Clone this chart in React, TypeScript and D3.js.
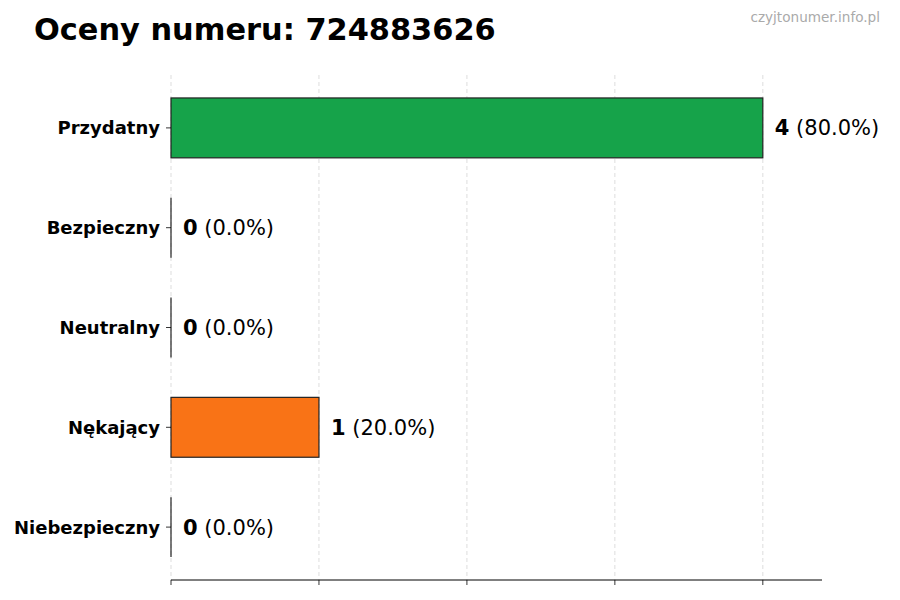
import React from 'react';
import * as d3 from 'd3';

const categories = ['Przydatny', 'Bezpieczny', 'Neutralny', 'Nękający', 'Niebezpieczny'];
const counts = [4, 0, 0, 1, 0];
const percents = ['80.0%', '0.0%', '0.0%', '20.0%', '0.0%'];
const barColors = ['#16a34a', '#22c55e', '#9ca3af', '#f97316', '#dc2626'];
const xTicks = [0, 1, 2, 3, 4];

const W = 900;
const H = 600;
const margin = { left: 171, right: 78, top: 75, bottom: 20 };
const font = '"DejaVu Sans", sans-serif';

const App: React.FC = () => {
  const x = d3.scaleLinear()
    .domain([0, 4.4])
    .range([margin.left, W - margin.right]);

  // category index -> vertical centre, matplotlib-style margins around bars
  const y = d3.scaleLinear()
    .domain([-0.53, 4.53])
    .range([margin.top, H - margin.bottom]);

  const barH = y(0.3) - y(-0.3);

  return (
    <svg width={W} height={H} style={{ position: 'absolute', left: 0, top: 0, background: '#fff' }}>
      <text x={34} y={40} fontFamily={font} fontWeight="bold" fontSize={30.4}>
        Oceny numeru: 724883626
      </text>
      <text x={880} y={22} textAnchor="end" fontFamily={font} fontSize={13.6} fill="#aaaaaa">
        czyjtonumer.info.pl
      </text>

      {/* grid */}
      {xTicks.map(t => (
        <line key={'g' + t} x1={x(t)} x2={x(t)} y1={margin.top} y2={H - margin.bottom}
          stroke="#d4d4d4" strokeWidth={0.8} strokeDasharray="4 3" />
      ))}

      {/* bars */}
      {categories.map((c, i) => counts[i] > 0 ? (
        <rect key={c} x={x(0)} y={y(i) - barH / 2} width={x(counts[i]) - x(0)} height={barH}
          fill={barColors[i]} stroke="#222" strokeWidth={1.2} />
      ) : (
        <line key={c} x1={x(0)} x2={x(0)} y1={y(i) - barH / 2} y2={y(i) + barH / 2}
          stroke="#222" strokeWidth={1.2} />
      ))}

      {/* value labels */}
      {categories.map((c, i) => (
        <text key={'v' + c} x={x(counts[i]) + 12} y={y(i)} dy="0.36em"
          fontFamily={font} fontSize={21}>
          <tspan fontWeight="bold">{counts[i]}</tspan>
          <tspan> ({percents[i]})</tspan>
        </text>
      ))}

      {/* y ticks + labels */}
      {categories.map((c, i) => (
        <g key={'t' + c}>
          <line x1={x(0) - 5} x2={x(0)} y1={y(i)} y2={y(i)} stroke="#000" strokeWidth={0.8} />
          <text x={x(0) - 11} y={y(i)} dy="0.36em" textAnchor="end"
            fontFamily={font} fontWeight="bold" fontSize={18}>
            {c}
          </text>
        </g>
      ))}

      {/* bottom axis */}
      <line x1={x(0)} x2={x(4.4)} y1={H - margin.bottom} y2={H - margin.bottom} stroke="#000" strokeWidth={1} />
      {xTicks.map(t => (
        <line key={'xt' + t} x1={x(t)} x2={x(t)} y1={H - margin.bottom} y2={H - margin.bottom + 5}
          stroke="#000" strokeWidth={0.8} />
      ))}
    </svg>
  );
};

export default App;
